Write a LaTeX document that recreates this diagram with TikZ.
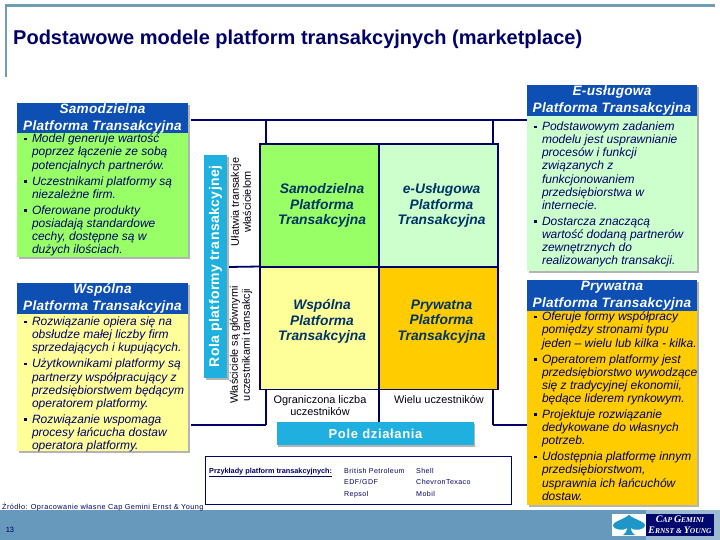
\documentclass[tikz,border=0pt]{standalone}
\usepackage{fontspec}
\setmainfont{Liberation Sans}
\newfontfamily\logofont{Liberation Serif}
\definecolor{navy}{HTML}{000066}
\definecolor{frameblue}{HTML}{6F9BB5}
\definecolor{bandblue}{HTML}{6699BB}
\definecolor{bandlight}{HTML}{9DBBD0}
\definecolor{headblue}{HTML}{0D4FB3}
\definecolor{skyblue}{HTML}{1FB0E0}
\definecolor{cellgreen}{HTML}{99FF66}
\definecolor{cellpale}{HTML}{CCFFCC}
\definecolor{cellyellow}{HTML}{FFFF99}
\definecolor{cellorange}{HTML}{FFCC00}
\definecolor{celltext}{HTML}{003366}
\definecolor{shadowgray}{HTML}{B4B4B4}
\definecolor{spadeblue}{HTML}{1E96C8}
\newcommand{\itm}{\makebox[8pt][l]{\rule[2.5pt]{2.6pt}{2.6pt}}}
\newcommand{\ind}{\hspace*{8pt}}
\newcommand{\bigc}[1]{{\fontsize{10}{11}\selectfont #1}}
\tikzset{
  x=1pt,y=-1pt,
  box/.style={inner sep=0pt,outer sep=0pt,anchor=north west},
  headbox/.style={box,fill=headblue,text=white,align=center,font=\fontsize{13.6}{17}\selectfont\bfseries\itshape\addfontfeature{LetterSpace=2}},
  bodytext/.style={inner sep=0pt,outer sep=0pt,anchor=north west,align=left,text=navy,font=\fontsize{12}{13.1}\selectfont\itshape},
  cell/.style={box,draw=navy,line width=1.8pt,minimum width=119pt,minimum height=122.5pt},
  celltxt/.style={inner sep=0pt,align=center,text=celltext,font=\fontsize{13.8}{15.2}\selectfont\bfseries\itshape},
  rule/.style={draw=navy,line width=1.8pt},
  axistext/.style={inner sep=0pt,align=center,text=black!85!navy,font=\fontsize{10.9}{12}\selectfont},
  smalltext/.style={inner sep=0pt,anchor=north west,align=left,text=navy,font=\fontsize{7.1}{11.5}\selectfont\addfontfeature{LetterSpace=6}},
  skybox/.style={inner sep=0pt,fill=skyblue,text=white,font=\fontsize{14}{15}\selectfont\bfseries\addfontfeature{LetterSpace=3}},
}
\newcommand{\shadowed}[5]{% name, x1, y1, x2, y2, shadow + fill rectangles
  \fill[shadowgray] (#2+2,#3+2) rectangle (#4+2,#5+2);
}
\begin{document}
\begin{tikzpicture}
\useasboundingbox (0,0) rectangle (720,540);
\fill[white] (0,0) rectangle (720,540);
% footer band and title frame
\fill[bandblue] (0,510) rectangle (646,540);
\fill[bandlight] (646,510) rectangle (720,540);
\fill[frameblue] (5,4) rectangle (715,7);
\fill[frameblue] (5,4) rectangle (7,77);
\node[inner sep=0pt,anchor=base west,text=navy,font=\fontsize{20}{22}\selectfont\bfseries] (title) at (13,45) {Podstawowe modele platform transakcyjnych (marketplace)};
% connector coordinates
\coordinate (topL) at (191,120); \coordinate (topR) at (527,120);
\coordinate (topA) at (266,120); \coordinate (topB) at (493,120);
\coordinate (midL) at (228,267); \coordinate (botL) at (191,425);
\coordinate (botA) at (266,425); \coordinate (botB) at (493,425);
\coordinate (botR) at (527,425);
\draw[rule] (topL) -- (topR);
\draw[rule] (botL) -- (botA);
\draw[rule] (botB) -- (botR);
% matrix
\node[cell,fill=cellgreen] (c11) at (260,144) {};
\node[cell,fill=cellpale] (c12) at (379,144) {};
\node[cell,fill=cellyellow] (c21) at (260,267) {};
\node[cell,fill=cellorange] (c22) at (379,267) {};
\node[celltxt] (t11) at (322,205.5) {Samodzielna\\Platforma\\Transakcyjna};
\node[celltxt] (t12) at (441.5,205.5) {e-Usługowa\\Platforma\\Transakcyjna};
\node[celltxt] (t21) at (322,321.5) {Wspólna\\Platforma\\Transakcyjna};
\node[celltxt] (t22) at (441.5,321.5) {Prywatna\\Platforma\\Transakcyjna};
\draw[rule] (topA) -- (topA |- c11.north);
\draw[rule] (topB) -- (topB |- c12.north);
\draw[rule] (midL) -- (c11.south west);
\draw[rule] (botA) -- (botA |- c21.south);
\draw[rule] (botB) -- (botB |- c22.south);
\coordinate (poleTop) at (379,422);
\draw[rule] (c21.south east) -- (poleTop);
% left boxes
\shadowed{}{17}{103}{188}{257}
\fill[cellgreen] (17,133) rectangle (188,257);
\node[headbox,minimum width=171pt,minimum height=30pt] (h1) at (17,103) {Samodzielna\\Platforma Transakcyjna};
\node[bodytext] (b1) at (24,134) {\itm Model generuje wartość\\\ind poprzez łączenie ze sobą\\\ind potencjalnych partnerów.\\[3pt]\itm Uczestnikami platformy są\\\ind niezależne firm.\\[3pt]\itm Oferowane produkty\\\ind posiadają standardowe\\\ind cechy, dostępne są w\\\ind dużych ilościach.};
\shadowed{}{17}{283}{188}{451}
\fill[cellyellow] (17,314) rectangle (188,451);
\node[headbox,minimum width=171pt,minimum height=31pt] (h2) at (17,283) {Wspólna\\Platforma Transakcyjna};
\node[bodytext] (b2) at (24,317) {\itm Rozwiązanie opiera się na\\\ind obsłudze małej liczby firm\\\ind sprzedających i kupujących.\\[3pt]\itm Użytkownikami platformy są\\\ind partnerzy współpracujący z\\\ind przedsiębiorstwem będącym\\\ind operatorem platformy.\\[3pt]\itm Rozwiązanie wspomaga\\\ind procesy łańcucha dostaw\\\ind operatora platformy.};
% right boxes
\shadowed{}{527}{85}{697}{271}
\fill[cellpale] (527,116) rectangle (697,271);
\node[headbox,minimum width=170pt,minimum height=31pt] (h3) at (527,85) {E-usługowa\\Platforma Transakcyjna};
\node[bodytext] (b3) at (534,122) {\itm Podstawowym zadaniem\\\ind modelu jest usprawnianie\\\ind procesów i funkcji\\\ind związanych z\\\ind funkcjonowaniem\\\ind przedsiębiorstwa w\\\ind internecie.\\[3pt]\itm Dostarcza znaczącą\\\ind wartość dodaną partnerów\\\ind zewnętrznych do\\\ind realizowanych transakcji.};
\shadowed{}{527}{280}{697}{505}
\fill[cellorange] (527,311) rectangle (697,505);
\node[headbox,minimum width=170pt,minimum height=31pt] (h4) at (527,280) {Prywatna\\Platforma Transakcyjna};
\node[bodytext] (b4) at (534,312) {\itm Oferuje formy współpracy\\\ind pomiędzy stronami typu\\\ind jeden -- wielu lub kilka - kilka.\\[3pt]\itm Operatorem platformy jest\\\ind przedsiębiorstwo wywodzące\\\ind się z tradycyjnej ekonomii,\\\ind będące liderem rynkowym.\\[3pt]\itm Projektuje rozwiązanie\\\ind dedykowane do własnych\\\ind potrzeb.\\[3pt]\itm Udostępnia platformę innym\\\ind przedsiębiorstwom,\\\ind usprawnia ich łańcuchów\\\ind dostaw.};
% role bar
\fill[shadowgray] (206,157) rectangle (229,380);
\node[skybox,rotate=90,minimum width=223pt,minimum height=23pt] (rola) at (215.5,266.5) {Rola platformy transakcyjnej};
\node[axistext,rotate=90] (a1) at (241,202) {Ułatwia transakcje\\właścicielom};
\node[axistext,rotate=90] (a2) at (241,345) {Właściciele są głównymi\\uczestnikami transakcji};
\node[axistext] (a3) at (320,405.5) {Ograniczona liczba\\uczestników};
\node[axistext] (a4) at (439,400) {Wielu uczestników};
% pole
\fill[shadowgray] (278,424) rectangle (475,447);
\node[skybox,minimum width=197pt,minimum height=23pt,font=\fontsize{13}{15}\selectfont\bfseries\addfontfeature{LetterSpace=5}] (pole) at (375.5,433.5) {Pole działania};
% examples
\node[box,draw=navy,line width=0.7pt,minimum width=306pt,minimum height=48pt] (ex) at (205.5,456) {};
\node[smalltext,font=\fontsize{7.3}{11}\selectfont\bfseries] (ex0) at (209,468) {\underline{Przykłady platform transakcyjnych:}};
\node[smalltext] (ex1) at (344,468) {British Petroleum\\EDF/GDF\\Repsol};
\node[smalltext] (ex2) at (416,468) {Shell\\ChevronTexaco\\Mobil};
\node[inner sep=0pt,anchor=base west,text=navy,font=\fontsize{7.3}{9}\selectfont\addfontfeature{LetterSpace=6}] (src) at (2,509) {Źródło: Opracowanie własne Cap Gemini Ernst \& Young};
\node[inner sep=0pt,text=navy,font=\fontsize{7.5}{9}\selectfont] (page) at (10,530) {13};
% logo
\fill[white] (612,514) rectangle (646,536);
\fill[navy!90!headblue] (646,514) rectangle (714,536);
\fill[spadeblue] (629,514.5) .. controls (632,519) and (645,521) .. (645,525.5) .. controls (645,530) and (634,531) .. (630.5,528) .. controls (631,531) and (633,534) .. (635,535) -- (623,535) .. controls (625,534) and (627,531) .. (627.5,528) .. controls (624,531) and (613,530) .. (613,525.5) .. controls (613,521) and (626,519) .. (629,514.5) -- cycle;
\node[inner sep=0pt,text=white,align=center,font=\fontsize{7.5}{11}\logofont\bfseries\itshape] (logo) at (680,525) {\bigc{C}AP \bigc{G}EMINI\\\bigc{E}RNST \& \bigc{Y}OUNG};
\end{tikzpicture}
\end{document}
